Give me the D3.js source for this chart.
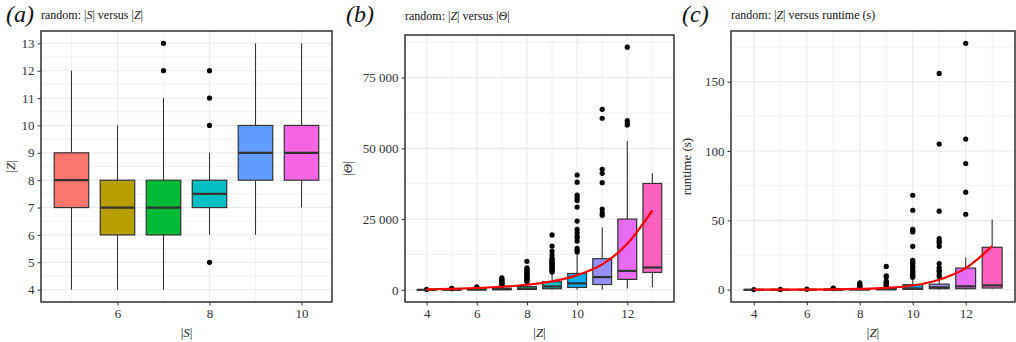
<!DOCTYPE html>
<html>
<head>
<meta charset="utf-8">
<script src="https://cdn.jsdelivr.net/npm/d3@7"></script>
<style>
  body { margin: 0; background: #fff; }
  svg { display: block; }
</style>
</head>
<body>
<div id="chart"></div>
<script>
// ---- panel (a): |S| versus |Z| ----
const sCats = [5, 6, 7, 8, 9, 10];
const aLow  = [4, 4, 4, 6, 6, 7];
const aQ1   = [7, 6, 6, 7, 8, 8];
const aMed  = [8, 7, 7, 7.5, 9, 9];
const aQ3   = [9, 8, 8, 8, 10, 10];
const aHigh = [12, 10, 11, 9, 13, 13];
const aOut  = [[], [], [12, 13], [5, 10, 11, 12], [], []];

// ---- panel (b): |Z| versus |Theta| ----
const zCats = [4, 5, 6, 7, 8, 9, 10, 11, 12, 13];
const bLow  = [0, 0, 0, 0, 0, 0, 0, 100, 500, 1000];
const bQ1   = [0, 20, 40, 80, 150, 400, 850, 1900, 3700, 6150];
const bMed  = [20, 60, 120, 250, 450, 1200, 2300, 4500, 6700, 7900];
const bQ3   = [60, 150, 300, 600, 1200, 2900, 5800, 11000, 25000, 37600];
const bHigh = [120, 350, 700, 1400, 2600, 6300, 12300, 22000, 52600, 41200];
const bOut  = [
  [150],
  [400, 500],
  [900, 1100],
  [1500, 1800, 2100, 2400, 2700, 3000, 3400, 3800, 4250],
  [2900, 3300, 3700, 4000, 4400, 4800, 5200, 5600, 6000, 6400, 6900, 7400, 7800, 10100],
  [6300, 6700, 7100, 7500, 7900, 8300, 8700, 9100, 9500, 9900, 10300, 10800, 11300, 12500, 13700, 15500, 19400],
  [13340, 13940, 14650, 17230, 18400, 19000, 20170, 21370, 24300, 29260, 31600, 32500, 33450, 38050, 40580],
  [26320, 27250, 28550, 37860, 41180, 42590, 60640, 63800],
  [58270, 59000, 59800, 85760],
  []
];
const bFit = [150, 350, 650, 1100, 1800, 3000, 5200, 9000, 16300, 28100];

// ---- panel (c): |Z| versus runtime (s) ----
const cLow  = [0, 0, 0, 0, 0, 0, 0, 0, 0.3, 0.5];
const cQ1   = [0, 0, 0, 0, 0, 0.1, 0.3, 0.7, 0.7, 1.2];
const cMed  = [0, 0, 0, 0.05, 0.1, 0.3, 0.9, 1.7, 2.4, 3.1];
const cQ3   = [0.02, 0.05, 0.1, 0.2, 0.4, 1.0, 3.6, 4, 15.6, 30.6];
const cHigh = [0.05, 0.1, 0.2, 0.5, 0.9, 2.2, 8, 9, 23.3, 50.6];
const cOut  = [
  [0.1],
  [0.2],
  [0.4],
  [0.8, 1.0, 1.2],
  [1.5, 2, 2.5, 3, 3.5, 4.2, 5.0],
  [2.6, 3.2, 3.8, 4.5, 5.2, 6.2, 9.1, 10, 16.8],
  [9, 10, 11, 12, 13, 14, 15.9, 17, 18.8, 20, 21.2, 31.3, 41.6, 42.5, 43.6, 57.3, 68.1],
  [9.5, 10.5, 12.7, 14, 15.9, 18.8, 31.3, 33.7, 35, 36.8, 56.6, 105, 156],
  [54.4, 70.3, 91, 108.6, 177.7],
  []
];
const cFit = [0.02, 0.05, 0.1, 0.25, 0.6, 1.3, 3.0, 7.2, 15.5, 31.3];

// ggplot default hue palettes
const hue6  = ['#F8766D', '#B79F00', '#00BA38', '#00BFC4', '#619CFF', '#F564E3'];
const hue10 = ['#F8766D', '#D89000', '#A3A500', '#39B600', '#00BF7D',
               '#00BFC4', '#00B0F6', '#9590FF', '#E76BF3', '#FF62BC'];

const FONT = "'Liberation Serif', 'Times New Roman', Times, serif";
const width = 1016, height = 342;

const svg = d3.select('#chart').append('svg')
  .attr('width', width).attr('height', height)
  .attr('font-family', FONT);

// write a label made of [text, italic] pieces
function richText(g, parts) {
  g.attr('font-family', FONT);
  parts.forEach(([t, it]) => {
    g.append('tspan').text(t).attr('font-style', it ? 'italic' : 'normal');
  });
  return g;
}

const spaceFmt = d3.formatLocale({decimal: '.', thousands: ' ', grouping: [3], currency: ['', '']}).format(',');

function drawPanel(cfg) {
  const {left, right, top, bottom} = cfg.box;
  const n = cfg.cats.length;

  // x: continuous with boxes of width 0.75, expand 5%
  const xmin = d3.min(cfg.cats) - 0.375, xmax = d3.max(cfg.cats) + 0.375;
  const xpad = (xmax - xmin) * 0.05;
  const x = d3.scaleLinear().domain([xmin - xpad, xmax + xpad]).range([left, right]);

  // y: data range (+5%)
  const allY = [].concat(cfg.low, cfg.high, ...cfg.out);
  const ymin = d3.min(allY), ymax = d3.max(allY);
  const ypad = (ymax - ymin) * 0.05;
  const y = d3.scaleLinear().domain([ymin - ypad, ymax + ypad]).range([bottom, top]);

  const g = svg.append('g');

  // background grid
  const grid = g.append('g');
  grid.selectAll('.xmin').data(cfg.xMinor).join('line')
    .attr('x1', d => x(d)).attr('x2', d => x(d)).attr('y1', top).attr('y2', bottom)
    .attr('stroke', '#EBEBEB').attr('stroke-width', 0.6);
  grid.selectAll('.ymin').data(cfg.yMinor).join('line')
    .attr('y1', d => y(d)).attr('y2', d => y(d)).attr('x1', left).attr('x2', right)
    .attr('stroke', '#EBEBEB').attr('stroke-width', 0.6);
  grid.selectAll('.xmaj').data(cfg.xMajor).join('line')
    .attr('x1', d => x(d)).attr('x2', d => x(d)).attr('y1', top).attr('y2', bottom)
    .attr('stroke', '#EBEBEB').attr('stroke-width', 1.1);
  grid.selectAll('.ymaj').data(cfg.yMajor).join('line')
    .attr('y1', d => y(d)).attr('y2', d => y(d)).attr('x1', left).attr('x2', right)
    .attr('stroke', '#EBEBEB').attr('stroke-width', 1.1);

  const bw = x(0.75) - x(0);
  const items = d3.range(n).map(i => ({
    c: cfg.cats[i], lo: cfg.low[i], q1: cfg.q1[i], md: cfg.med[i],
    q3: cfg.q3[i], hi: cfg.high[i], out: cfg.out[i], col: cfg.colours[i]
  }));

  const boxes = g.append('g').selectAll('g').data(items).join('g');
  // whiskers
  boxes.append('line')
    .attr('x1', d => x(d.c)).attr('x2', d => x(d.c))
    .attr('y1', d => y(d.q3)).attr('y2', d => y(d.hi))
    .attr('stroke', '#333').attr('stroke-width', 1.1);
  boxes.append('line')
    .attr('x1', d => x(d.c)).attr('x2', d => x(d.c))
    .attr('y1', d => y(d.q1)).attr('y2', d => y(d.lo))
    .attr('stroke', '#333').attr('stroke-width', 1.1);
  // outliers
  boxes.selectAll('circle').data(d => d.out.map(v => ({c: d.c, v}))).join('circle')
    .attr('cx', d => x(d.c)).attr('cy', d => y(d.v)).attr('r', 2.6)
    .attr('fill', '#000');
  // box
  boxes.append('rect')
    .attr('x', d => x(d.c) - bw / 2).attr('width', bw)
    .attr('y', d => y(d.q3)).attr('height', d => Math.max(0.5, y(d.q1) - y(d.q3)))
    .attr('fill', d => d.col).attr('stroke', '#333').attr('stroke-width', 1.2);
  // median
  boxes.append('line')
    .attr('x1', d => x(d.c) - bw / 2).attr('x2', d => x(d.c) + bw / 2)
    .attr('y1', d => y(d.md)).attr('y2', d => y(d.md))
    .attr('stroke', '#333').attr('stroke-width', 2.2);

  // fitted curve
  if (cfg.fit) {
    const line = d3.line().x((d, i) => x(cfg.cats[i])).y(d => y(d)).curve(d3.curveMonotoneX);
    g.append('path').attr('d', line(cfg.fit))
      .attr('fill', 'none').attr('stroke', '#FF0000').attr('stroke-width', 2.2);
  }

  // border
  g.append('rect').attr('x', left).attr('y', top)
    .attr('width', right - left).attr('height', bottom - top)
    .attr('fill', 'none').attr('stroke', '#222').attr('stroke-width', 1.4);

  // axes
  const ax = g.append('g').attr('transform', `translate(0,${bottom})`)
    .call(d3.axisBottom(x).tickValues(cfg.xMajor).tickSize(3.5).tickPadding(3).tickFormat(d3.format('d')));
  const ay = g.append('g').attr('transform', `translate(${left},0)`)
    .call(d3.axisLeft(y).tickValues(cfg.yMajor).tickSize(3.5).tickPadding(3).tickFormat(cfg.yFmt));
  [ax, ay].forEach(a => {
    a.select('.domain').remove();
    a.attr('font-family', FONT).attr('font-size', 13);
    a.selectAll('.tick line').attr('stroke', '#333');
    a.selectAll('.tick text').attr('fill', '#333').attr('font-family', FONT);
  });

  // axis titles
  richText(g.append('text').attr('x', (left + right) / 2).attr('y', 337)
    .attr('text-anchor', 'middle').attr('font-size', 13).attr('fill', '#222'), cfg.xTitle);
  richText(g.append('text')
    .attr('transform', `translate(${cfg.yTitleX},${(top + bottom) / 2}) rotate(-90)`)
    .attr('text-anchor', 'middle').attr('font-size', 13).attr('fill', '#222'), cfg.yTitle);

  // panel tag and title
  g.append('text').attr('x', cfg.tagX).attr('y', 22)
    .attr('font-family', FONT)
    .attr('font-size', 24).attr('font-style', 'italic').attr('fill', '#111')
    .text(cfg.tag);
  richText(g.append('text').attr('x', left).attr('y', cfg.titleY)
    .attr('font-size', 12).attr('fill', '#111'), cfg.title);
}

drawPanel({
  box: {left: 41, right: 332, top: 31, bottom: 302},
  cats: sCats, low: aLow, q1: aQ1, med: aMed, q3: aQ3, high: aHigh, out: aOut,
  colours: hue6,
  xMajor: [6, 8, 10], xMinor: [5, 7, 9],
  yMajor: d3.range(4, 14), yMinor: d3.range(4.5, 13, 1),
  yFmt: d3.format('d'),
  xTitle: [['|', false], ['S', true], ['|', false]],
  yTitle: [['|', false], ['Z', true], ['|', false]],
  yTitleX: 15,
  tag: '(a)', tagX: 6, titleY: 19,
  title: [['random: |', false], ['S', true], ['| versus |', false], ['Z', true], ['|', false]]
});

drawPanel({
  box: {left: 405, right: 674, top: 35, bottom: 302},
  cats: zCats, low: bLow, q1: bQ1, med: bMed, q3: bQ3, high: bHigh, out: bOut,
  colours: hue10, fit: bFit,
  xMajor: [4, 6, 8, 10, 12], xMinor: [5, 7, 9, 11, 13],
  yMajor: [0, 25000, 50000, 75000], yMinor: [12500, 37500, 62500, 87500],
  yFmt: d => spaceFmt(d),
  xTitle: [['|', false], ['Z', true], ['|', false]],
  yTitle: [['|', false], ['\u0398', true], ['|', false]],
  yTitleX: 352,
  tag: '(b)', tagX: 346, titleY: 20,
  title: [['random: |', false], ['Z', true], ['| versus |', false], ['\u0398', true], ['|', false]]
});

drawPanel({
  box: {left: 731, right: 1015, top: 31, bottom: 302},
  cats: zCats, low: cLow, q1: cQ1, med: cMed, q3: cQ3, high: cHigh, out: cOut,
  colours: hue10, fit: cFit,
  xMajor: [4, 6, 8, 10, 12], xMinor: [5, 7, 9, 11, 13],
  yMajor: [0, 50, 100, 150], yMinor: [25, 75, 125, 175],
  yFmt: d3.format('d'),
  xTitle: [['|', false], ['Z', true], ['|', false]],
  yTitle: [['runtime (s)', false]],
  yTitleX: 691,
  tag: '(c)', tagX: 682, titleY: 19,
  title: [['random: |', false], ['Z', true], ['| versus runtime (s)', false]]
});
</script>
</body>
</html>
